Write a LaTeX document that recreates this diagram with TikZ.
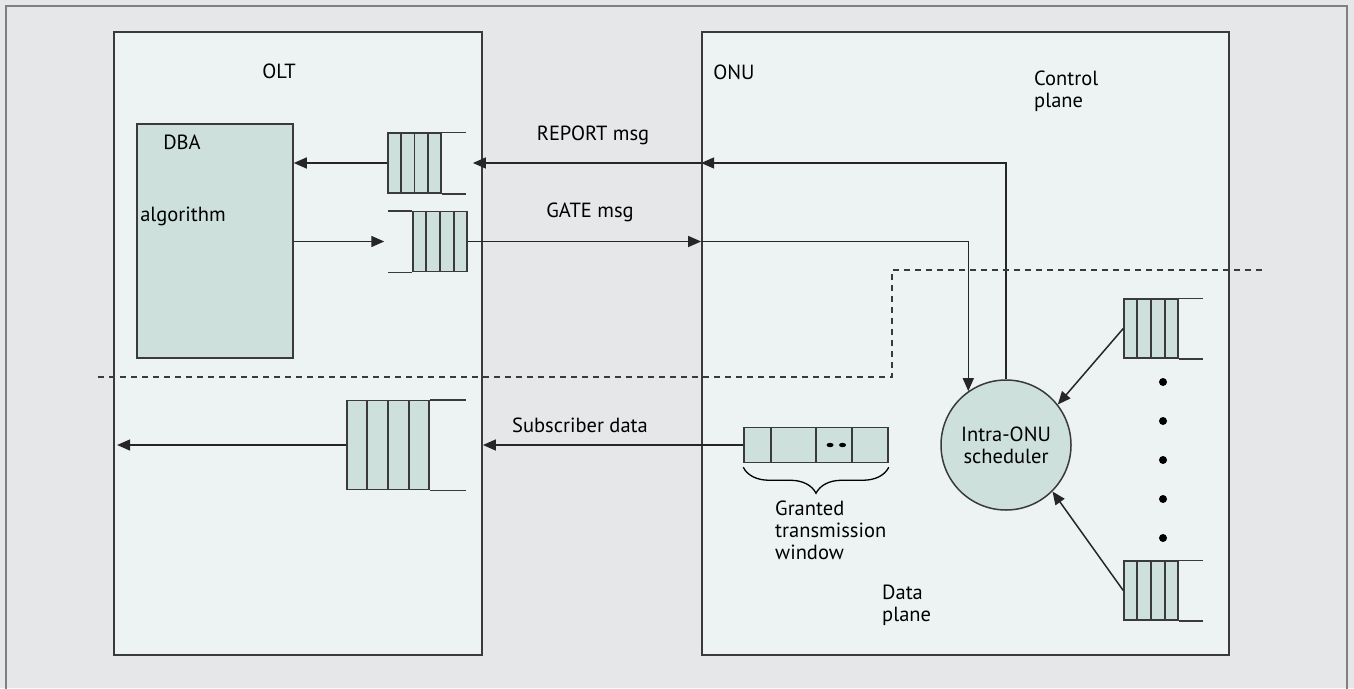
\documentclass[tikz,border=0pt]{standalone}
\usepackage{fontspec}
\setmainfont{PT Sans}
\usetikzlibrary{arrows.meta,calc,decorations.pathreplacing}
\definecolor{bggray}{HTML}{E6E7E9}
\definecolor{boxfill}{HTML}{EDF3F3}
\definecolor{cellfill}{HTML}{CDE0DC}
\definecolor{linegray}{HTML}{3A3A3A}

\begin{document}
\begin{tikzpicture}[x=1pt,y=-1pt]
        \tikzset{unit/.style={draw=linegray,line width=1.8pt,fill=boxfill,inner sep=0pt},
            cellbox/.style={draw=linegray,line width=1.5pt,fill=cellfill,inner sep=0pt},
            txt/.style={font=\fontsize{20.5}{22}\selectfont,inner sep=0pt,align=left},
            link/.style={draw=black!85,line width=1.5pt,-{Triangle[length=13pt,width=11pt]}},
            wall/.style={draw=linegray,line width=1.5pt},
            border line/.style={draw=linegray,line width=1.4pt,dash pattern=on 6pt off 5pt}}
        \useasboundingbox (0,0) rectangle (1354,688);
        \fill[bggray] (0,0) rectangle (1354,688);
        \draw[gray,line width=1.5pt] (6,690) -- (6,6) -- (1347,6) -- (1347,690);
        % the two units
        \node[unit,minimum width=368,minimum height=623] (olt) at (298,343.5) {};
        \node[unit,minimum width=527,minimum height=623] (onu) at (965.5,343.5) {};
        \node[txt] (oltlabel) at (279,71) {OLT};
        \node[txt] (onulabel) at (734,72) {ONU};
        \node[cellbox,minimum width=156,minimum height=234] (dba) at (215,241) {};
        \node[txt] (dbalabel) at (182,142) {DBA};
        \node[txt] (alglabel) at (183,216) {algorithm};
        % queues
        \node[cellbox,minimum width=53,minimum height=60] (qa) at (414.5,163) {};
        \node[cellbox,minimum width=54,minimum height=60] (qb) at (440,241.5) {};
        \node[cellbox,minimum width=82,minimum height=89] (qc) at (388,445) {};
        \node[cellbox,minimum width=54,minimum height=59] (qd) at (1151,328.5) {};
        \node[cellbox,minimum width=54,minimum height=59] (qe) at (1151,590.5) {};
        \foreach \q in {qa,qb,qc,qd,qe}
            \foreach \i in {1,2,3}
                \draw[wall] ($(\q.north west)!\i/4!(\q.north east)$) -- ($(\q.south west)!\i/4!(\q.south east)$);
        \draw[wall] (qa.north east) -- ++(24,0) (qa.south east) -- ++(24,0);
        \draw[wall] (qb.north west) -- ++(-24,0) (qb.south west) -- ++(-24,0);
        \draw[wall] (qc.north east) -- ++(36,0) (qc.south east) -- ++(36,0);
        \draw[wall] (qd.north east) -- ++(24,0) (qd.south east) -- ++(24,0);
        \draw[wall] (qe.north east) -- ++(24,0) (qe.south east) -- ++(24,0);
        \foreach \y in {382,421,460,499,538}
            \fill (1163,\y) circle (4pt);
        % granted window
        \node[cellbox,minimum width=144,minimum height=35] (frame) at (816,445) {};
        \foreach \x in {771,816,852}
            \draw[wall] (frame.north -| \x,0) -- (frame.south -| \x,0);
        \fill (830,445) ellipse (3.5pt and 2.2pt) (842.5,445) ellipse (3.5pt and 2.2pt);
        \draw[line width=1.3pt,decorate,decoration={brace,amplitude=26pt}]
            ($(frame.south east)+(0,4)$) -- ($(frame.south west)+(0,4)$);
        \node[txt,anchor=north west] (grantlabel) at (775,501) {Granted\\transmission\\window};
        \node[circle,cellbox,minimum size=130] (sched) at (1006,445) {};
        \node[txt,align=center] (schedlabel) at (sched) {Intra-ONU\\scheduler};
        \node[txt,anchor=west] (ctrl) at (1034,91) {Control\\plane};
        \node[txt,anchor=west] (data) at (882,605) {Data\\plane};
        \node[txt] (replabel) at (593,135) {REPORT msg};
        \node[txt] (gatelabel) at (590,212) {GATE msg};
        \node[txt] (sublabel) at (580,425) {Subscriber data};
        % messages
        \draw[link] (qa.west) -- (dba.east |- qa.west);
        \draw[link] (dba.east |- qb.west) -- ($(qb.west)+(-28,0)$);
        \draw[link] (qb.east) -- (onu.west |- qb.east);
        \draw[link] (onu.west |- qb.east) -| (sched.125);
        \draw[link] (sched.north) |- (onu.west |- qa.east);
        \draw[link] (onu.west |- qa.east) -- ($(olt.east |- qa.east)+(-10,0)$);
        \draw[link] (qd.west) -- (sched.38);
        \draw[link] (qe.west) -- (sched.-45);
        \draw[link] (frame.west) -- (olt.east |- frame.west);
        \draw[link] (qc.west) -- ($(olt.west |- qc.west)+(4,0)$);
        \draw[border line] (98,377) -| (892,270) -- (1265,270);
\end{tikzpicture}
\end{document}
